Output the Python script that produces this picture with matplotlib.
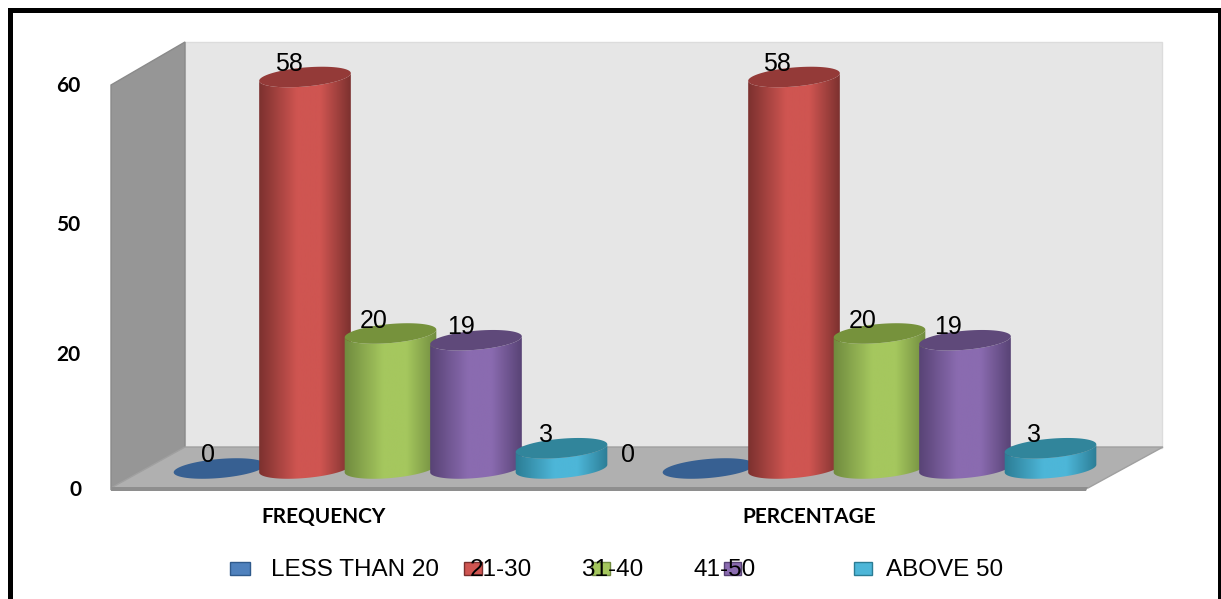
import numpy as np
from matplotlib import pyplot as plt
from matplotlib.colors import LinearSegmentedColormap
from matplotlib.patches import Polygon, Rectangle

categories = ['FREQUENCY', 'PERCENTAGE']
age_groups = ['LESS THAN 20', '21-30', '31-40', '41-50', 'ABOVE 50']
frequency = [0, 58, 20, 19, 3]
percentage = [0, 58, 20, 19, 3]
axis_labels = ['60', '50', '20', '0']

edge_colors = ['#2f5a8c', '#7a302e', '#6f8a3e', '#574274', '#2b7c94']
mid_colors = ['#4f81bd', '#cf5551', '#a5c75e', '#8a6bb0', '#4db6d8']
top_colors = ['#376092', '#943a38', '#76923c', '#5f497a', '#31859b']

W, H = 1221, 599
PX_PER_UNIT = 6.75
BASE_Y = 468.5
RX, RY = 46, 9.5
TILT = np.radians(5)


def ellipse(cx, cy, start=0, stop=2 * np.pi, n=80):
    t = np.linspace(start, stop, n)
    x = RX * np.cos(t)
    y = RY * np.sin(t)
    return np.column_stack([cx + x * np.cos(TILT) + y * np.sin(TILT),
                            cy - x * np.sin(TILT) + y * np.cos(TILT)])


def page_y(value_ax, page_ax, value):
    disp = value_ax.transData.transform((0, value))
    return page_ax.transData.inverted().transform(disp)[1]


def draw_cylinder(ax, cx, top, bottom, i):
    cmap = LinearSegmentedColormap.from_list(
        'cyl', [edge_colors[i], mid_colors[i], mid_colors[i], edge_colors[i]])
    if top < bottom - 1:
        # body outline: lower arc of the base, then back across the lower arc of the lid
        outline = np.vstack([ellipse(cx, bottom, np.pi, 0), ellipse(cx, top, 0, np.pi)])
        body = Polygon(outline, closed=True, fc='none', ec='none', zorder=3)
        ax.add_patch(body)
        grad = np.array([np.interp(np.linspace(0, 1, 200), [0, 0.5, 0.6, 1], [0, 0.4, 0.6, 1])])
        im = ax.imshow(grad, cmap=cmap, aspect='auto', zorder=3,
                       extent=(cx - RX - 1, cx + RX + 1, bottom + RY + 6, top - RY - 6))
        im.set_clip_path(body)
    lid = Polygon(ellipse(cx, top), closed=True, fc=top_colors[i], ec='none', zorder=3)
    ax.add_patch(lid)


fig = plt.figure(figsize=(W / 100, H / 100), dpi=100)
ax = fig.add_axes([0, 0, 1, 1])
ax.set_xlim(0, W)
ax.set_ylim(H, 0)
ax.axis('off')

# second axes carries the value scale for the bar heights
value_ax = fig.add_axes([0, 0, 1, 1], frameon=False)
value_ax.set_xlim(0, W)
value_ax.set_ylim((BASE_Y - H) / PX_PER_UNIT, BASE_Y / PX_PER_UNIT)
value_ax.axis('off')

# outer border, open at the bottom
ax.add_patch(Rectangle((8, 8), 5, H - 8, fc='black', ec='none'))
ax.add_patch(Rectangle((8, 8), W - 8, 5, fc='black', ec='none'))
ax.add_patch(Rectangle((1218, 8), 3, H - 8, fc='black', ec='none'))

# 3d box: back wall, side wall, floor
ax.add_patch(Polygon([(185, 42), (1162, 42), (1162, 448), (185, 448)], fc='#e6e6e6', ec='#dcdcdc', lw=1))
ax.add_patch(Polygon([(111, 85), (185, 42), (185, 448), (111, 490)], fc='#969696', ec='#8a8a8a', lw=1))
ax.add_patch(Polygon([(111, 488), (185, 447), (1163, 447), (1088, 488)], fc='#b0b0b0', ec='#a0a0a0', lw=1))
ax.add_patch(Polygon([(111, 487), (1088, 487), (1086, 491), (111, 491)], fc='#8e8e8e', ec='none'))

group_left = [219.5, 708.5]
bar_step = 85.5
label_dx = [[-12, -16, -17, -15, -16], [-81, -17, -17, -17, -17]]

for g, values in enumerate([frequency, percentage]):
    for i, v in enumerate(values):
        cx = group_left[g] + i * bar_step
        top = page_y(value_ax, ax, v)
        if v == 0:
            ax.add_patch(Polygon(ellipse(cx, top), closed=True, fc=top_colors[i], ec='none', zorder=3))
        else:
            draw_cylinder(ax, cx, top, BASE_Y, i)
        ax.text(cx + label_dx[g][i], top - 13, str(v), ha='center', va='center', zorder=5,
                family='Liberation Sans', fontsize=18, color='black')

ax.set_xlim(0, W)
ax.set_ylim(H, 0)

for label, x, y in zip(axis_labels, [68, 68, 68, 75], [86, 225, 355, 490]):
    ax.text(x, y, label, ha='center', va='center', family='Lato', weight='bold', fontsize=15, color='black')

for label, x in zip(categories, [324, 809]):
    ax.text(x, 517, label, ha='center', va='center', family='Lato', weight='bold', fontsize=15, color='black')

# hand placed legend, text sits on top of the swatches
swatch_x = [230, 464, 592, 724, 854]
swatch_w = [20, 18, 18, 17, 18]
legend_x = [271, 470, 581, 693, 886]
for i, name in enumerate(age_groups):
    ax.add_patch(Rectangle((swatch_x[i], 562), swatch_w[i], 13, fc=mid_colors[i], ec=edge_colors[i], lw=1))
    ax.text(legend_x[i], 570, name, ha='left', va='center', family='Liberation Sans',
            fontsize=17.5, color='black', zorder=5)

fig.savefig('out.png', dpi=100)
